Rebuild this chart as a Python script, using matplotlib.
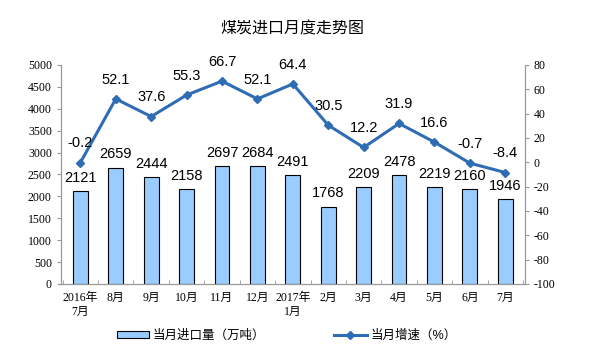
import matplotlib
matplotlib.use('Agg')
from matplotlib import pyplot as plt
from matplotlib.ticker import FixedLocator

months = ['2016年\n7月', '8月', '9月', '10月', '11月', '12月', '2017年\n1月',
          '2月', '3月', '4月', '5月', '6月', '7月']
imports = [2121, 2659, 2444, 2158, 2697, 2684, 2491, 1768, 2209, 2478, 2219, 2160, 1946]
growth = [-0.2, 52.1, 37.6, 55.3, 66.7, 52.1, 64.4, 30.5, 12.2, 31.9, 16.6, -0.7, -8.4]

cjk = ['Liberation Sans', 'Noto Sans CJK SC']
serif = ['Liberation Serif', 'Noto Sans CJK SC']
plt.rcParams['font.family'] = cjk
plt.rcParams['axes.unicode_minus'] = False

fig = plt.figure(figsize=(5.97, 3.55), dpi=100)
ax = fig.add_axes([0.102, 0.2, 0.777, 0.617])
ax2 = ax.twinx()

x = list(range(len(months)))
bars = ax.bar(x, imports, width=0.42, color='#99CCFF', edgecolor='black', linewidth=0.8,
              label='当月进口量（万吨）', zorder=2)
line, = ax2.plot(x, growth, color='#2E6DB4', linewidth=2.2, marker='D', markersize=4.5,
                 label='当月增速（%）', zorder=3)

for i, v in enumerate(imports):
    ax.text(i, v + 140, str(v), ha='center', va='bottom', fontsize=10.5, zorder=4)
for i, v in enumerate(growth):
    ax2.text(i, v + 10, str(v), ha='center', va='bottom', fontsize=10.5, zorder=4)

ax.set_xlim(-0.55, len(months) - 0.45)
ax.set_ylim(0, 5000)
ax.set_yticks(range(0, 5001, 500))
ax2.set_ylim(-100, 80)
ax2.set_yticks(range(-100, 81, 20))

ax.set_xticks(x)
ax.set_xticklabels(months, fontsize=8.5, family=serif)
ax.tick_params(axis='x', length=0, pad=6)
ax.xaxis.set_minor_locator(FixedLocator([i + 0.5 for i in range(-1, len(months))]))
ax.tick_params(axis='x', which='minor', length=3, color='#999999', direction='in')
ax.tick_params(axis='y', labelsize=8.5, length=3, color='#999999')
ax2.tick_params(axis='y', labelsize=8.5, length=3, color='#999999')
for lab in ax.get_yticklabels() + ax2.get_yticklabels():
    lab.set_family(serif)

for a in (ax, ax2):
    a.spines['top'].set_visible(False)
    for s in ('left', 'right', 'bottom'):
        a.spines[s].set_color('#999999')
        a.spines[s].set_linewidth(0.8)

fig.text(0.49, 0.92, '煤炭进口月度走势图', ha='center', va='center', fontsize=11.5)

fig.legend([bars, line], ['当月进口量（万吨）', '当月增速（%）'], loc='center',
           bbox_to_anchor=(0.48, 0.055), ncol=2, frameon=False, fontsize=9,
           handlelength=2.6, handleheight=0.5, handletextpad=0.3, columnspacing=5.5)

fig.savefig('out.png', dpi=100)
